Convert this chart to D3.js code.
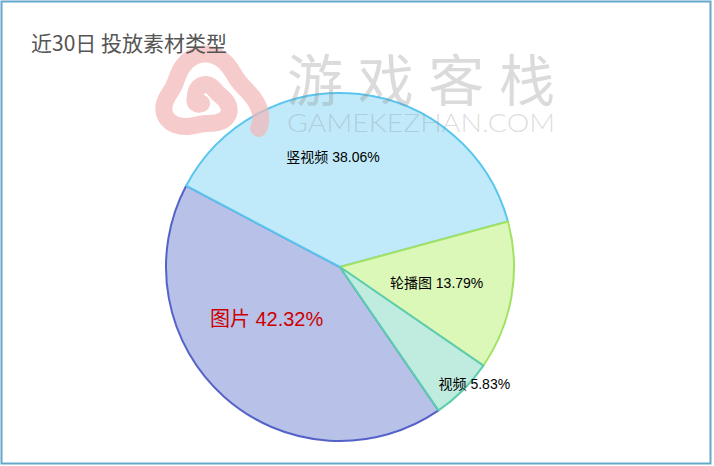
<!DOCTYPE html>
<html><head><meta charset="utf-8">
<script src="https://cdn.jsdelivr.net/npm/d3@7"></script>
<style>html,body{margin:0;padding:0;background:#fff;}svg{display:block;}</style>
</head><body>
<svg id="c" width="714" height="466"></svg>
<script>
const categories = ["图片", "竖视频", "轮播图", "视频"];
const values = [42.32, 38.06, 13.79, 5.83];
const fills = ["#b8c1e8", "#c0eaf9", "#dcf8b9", "#c0ecdf"];
const strokes = ["#5563c8", "#5ac6ee", "#a2e262", "#5ccdb0"];
const labelColors = ["#cc0000", "#000", "#000", "#000"];
const labelSizes = [20, 14, 14, 14];
// per-slice label placement (radius, angle offset in degrees)
const labelRad = [90, 110, 98, 178];
const labelDA = [13, -10, 0, -4];

const svg = d3.select("#c");
svg.append("rect").attr("x", 1.5).attr("y", 1.5).attr("width", 709).attr("height", 462)
  .attr("fill", "#fff").attr("stroke", "#66a8cc").attr("stroke-width", 2);

const cx = 340, cy = 267, R = 174;
const deg = Math.PI / 180;
const start = 145.5 * deg;
const pie = d3.pie().sort(null).value(d => d).startAngle(start).endAngle(start + 2 * Math.PI);
const arcs = pie(values);
const arc = d3.arc().innerRadius(0).outerRadius(R);
const g = svg.append("g").attr("transform", `translate(${cx},${cy})`);
g.selectAll("path.s").data(arcs).join("path").attr("class", "s")
  .attr("d", arc).attr("fill", (d, i) => fills[i]).attr("stroke", (d, i) => strokes[i])
  .attr("stroke-width", 2).attr("stroke-linejoin", "round");

// watermark logo (triangular spiral), translucent on top
const wm = svg.append("g").attr("opacity", 0.72);
const spiralPts = [];
const sx = 203, sy = 101;
const thEnd = 0.5, span = 11.0, k = 4.7;
for (let th = thEnd - span; th <= thEnd + 1e-6; th += 0.04) {
  const r = 3 + k * (th - (thEnd - span));
  const s = 1 + 0.16 * Math.cos(3 * (th + Math.PI / 2));
  spiralPts.push([sx + r * s * Math.cos(th), sy + r * s * Math.sin(th) * 0.9]);
}
wm.append("path").attr("d", d3.line().curve(d3.curveBasis)(spiralPts))
  .attr("fill", "none").attr("stroke", "#f3b7b7").attr("stroke-width", 17).attr("stroke-linecap", "round").attr("stroke-linejoin", "round");

// watermark text on top, translucent (one text element, two lines)
const wt = svg.append("text").attr("fill", "#888").attr("fill-opacity", 0.3).attr("text-anchor", "middle");
wt.append("tspan").attr("x", 421).attr("y", 101)
  .attr("font-family", "Noto Sans CJK SC").attr("font-size", 56)
  .attr("textLength", 268).text("游戏客栈");
wt.append("tspan").attr("x", 421).attr("y", 132)
  .attr("font-family", "Lato").attr("font-size", 25).attr("font-weight", 300)
  .attr("textLength", 268).attr("lengthAdjust", "spacingAndGlyphs").text("GAMEKEZHAN.COM");

// labels
g.selectAll("text.l").data(arcs).join("text").attr("class", "l")
  .attr("transform", (d, i) => {
    const a = (d.startAngle + d.endAngle) / 2 + labelDA[i] * deg;
    return `translate(${Math.sin(a) * labelRad[i]},${-Math.cos(a) * labelRad[i]})`;
  })
  .attr("text-anchor", "middle").attr("dy", "0.35em")
  .attr("font-family", "Liberation Sans, Noto Sans CJK SC, sans-serif")
  .attr("font-size", (d, i) => labelSizes[i]).attr("fill", (d, i) => labelColors[i])
  .text((d, i) => `${categories[i]} ${values[i].toFixed(2)}%`);

// title
svg.append("text").attr("x", 31).attr("y", 51).attr("font-family", "Noto Sans CJK SC, sans-serif")
  .attr("font-size", 21).attr("fill", "#555").text("近30日 投放素材类型");
</script>
</body></html>
